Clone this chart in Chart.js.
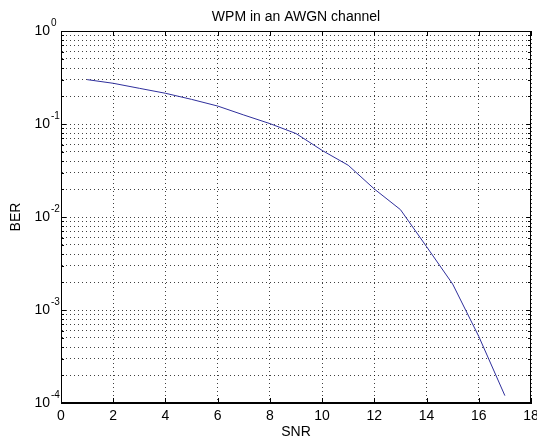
<!DOCTYPE html>
<html>
<head>
<meta charset="utf-8">
<script src="https://cdn.jsdelivr.net/npm/chart.js@4"></script>
<style>
  html, body { margin: 0; padding: 0; background: #fff; }
  #wrap { width: 537px; height: 440px; }
</style>
</head>
<body>
<div id="wrap"><canvas id="berChart"></canvas></div>
<script>
// SNR (x) e BER (y)
const snr = [1, 2, 3, 4, 5, 6, 7, 8, 9, 10, 11, 12, 13, 14, 15, 16, 17];
const ber = [0.30, 0.274, 0.242, 0.214, 0.184, 0.156, 0.125, 0.101, 0.079, 0.052, 0.036, 0.020, 0.012, 0.0048, 0.0019, 0.00052, 0.00012];

// eixo y: décadas e múltiplos para a grade
const decades = [1e-4, 1e-3, 1e-2, 1e-1, 1];
const multiples = [1, 2, 3, 4, 5, 6, 7, 8, 9];
const xTicks = [0, 2, 4, 6, 8, 10, 12, 14, 16, 18];

const font = 'Liberation Sans, Arial, sans-serif';

const yTickValues = [];
decades.forEach(d => {
    if (d === 1) { yTickValues.push(1); return; }
    multiples.forEach(m => yTickValues.push(+(d * m).toPrecision(3)));
});

// caixa estilo MATLAB, marcas internas e rótulos 10^n
const matlabBox = {
    id: 'matlabBox',
    afterDraw(chart) {
        const { ctx, chartArea: a, scales: { x, y } } = chart;
        ctx.save();
        ctx.strokeStyle = '#000';
        ctx.lineWidth = 1;
        ctx.setLineDash([]);
        ctx.strokeRect(a.left + 0.5, a.top + 0.5, a.right - a.left - 1, a.bottom - a.top - 1);

        ctx.beginPath();
        yTickValues.forEach(v => {
            const py = Math.round(y.getPixelForValue(v)) + 0.5;
            const len = decades.includes(v) ? 5 : 3;
            ctx.moveTo(a.left, py); ctx.lineTo(a.left + len, py);
            ctx.moveTo(a.right, py); ctx.lineTo(a.right - len, py);
        });
        xTicks.forEach(v => {
            const px = Math.round(x.getPixelForValue(v)) + 0.5;
            ctx.moveTo(px, a.bottom); ctx.lineTo(px, a.bottom - 5);
            ctx.moveTo(px, a.top); ctx.lineTo(px, a.top + 5);
        });
        ctx.stroke();

        ctx.fillStyle = '#000';
        ctx.textBaseline = 'middle';
        decades.forEach(v => {
            const py = y.getPixelForValue(v);
            ctx.font = '14px ' + font;
            ctx.textAlign = 'right';
            ctx.fillText('10', a.left - 11, py);
            ctx.font = '10px ' + font;
            ctx.textAlign = 'left';
            ctx.fillText(String(Math.round(Math.log10(v))), a.left - 10, py - 8);
        });
        ctx.restore();
    }
};

const ctx = document.getElementById('berChart').getContext('2d');
new Chart(ctx, {
    type: 'line',
    data: {
        labels: snr,
        datasets: [{
            data: snr.map((s, i) => ({ x: s, y: ber[i] })),
            borderColor: '#2f2f9c',
            borderWidth: 1,
            pointRadius: 0,
            tension: 0,
            fill: false
        }]
    },
    options: {
        responsive: true,
        maintainAspectRatio: false,
        animation: false,
        layout: { padding: { left: 0, right: 6, top: 0, bottom: 0 } },
        plugins: {
            legend: { display: false },
            tooltip: { enabled: false },
            title: {
                display: true,
                text: 'WPM in an AWGN channel',
                fullSize: false,
                color: '#000',
                font: { family: font, size: 14, weight: 'normal', lineHeight: 1.2 },
                padding: { top: 9, bottom: 5.2 }
            }
        },
        scales: {
            x: {
                type: 'linear',
                min: 0,
                max: 18,
                afterBuildTicks: s => { s.ticks = xTicks.map(v => ({ value: v })); },
                afterFit: s => { s.height = 37; s.paddingLeft = 0; s.paddingRight = 0; },
                ticks: {
                    color: '#000',
                    padding: 5,
                    maxRotation: 0,
                    font: { family: font, size: 14 }
                },
                grid: { color: 'rgba(0,0,0,0.75)', lineWidth: 1, drawTicks: false },
                border: { display: true, color: '#000', width: 1, dash: [1, 3] },
                title: {
                    display: true,
                    text: 'SNR',
                    color: '#000',
                    font: { family: font, size: 14, lineHeight: 1 },
                    padding: { top: 0, bottom: 1 }
                }
            },
            y: {
                type: 'logarithmic',
                min: 1e-4,
                max: 1,
                afterBuildTicks: s => { s.ticks = yTickValues.map(v => ({ value: v })); },
                afterFit: s => { s.width = 61; },
                ticks: { display: false },
                grid: { color: 'rgba(0,0,0,0.75)', lineWidth: 1, drawTicks: false },
                border: { display: true, color: '#000', width: 1, dash: [1, 3] },
                title: {
                    display: true,
                    text: 'BER',
                    color: '#000',
                    font: { family: font, size: 14, lineHeight: 1 },
                    padding: { top: 9, bottom: 0 }
                }
            }
        }
    },
    plugins: [matlabBox]
});
</script>
</body>
</html>
